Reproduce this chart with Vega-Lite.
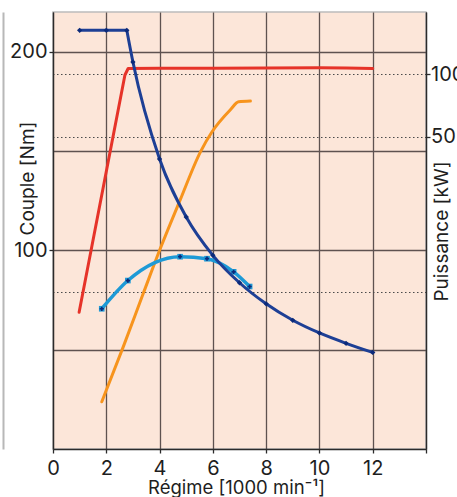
{
  "$schema": "https://vega.github.io/schema/vega-lite/v6.json",
  "width": 373,
  "height": 437,
  "autosize": {"type": "none"},
  "padding": {"left": 53, "top": 12, "right": 31, "bottom": 48},
  "background": "#ffffff",
  "config": {
    "font": "Inter",
    "view": {"fill": "#fce6d9", "stroke": "#bcbcbc", "strokeWidth": 1.5},
    "axis": {
      "domainColor": "#2b2b2b", "domainWidth": 1.3,
      "tickColor": "#2b2b2b", "tickSize": 4, "tickWidth": 1.3,
      "labelFont": "Inter", "labelFontSize": 20, "labelColor": "#1e1e1e",
      "titleFont": "Inter", "titleFontSize": 19, "titleFontWeight": "normal", "titleColor": "#1e1e1e",
      "labelOverlap": false
    }
  },
  "datasets": {
    "torque": [
      {"x": 1, "nm": 210.8}, {"x": 2, "nm": 210.8}, {"x": 2.77, "nm": 210.8},
      {"x": 3, "nm": 194.8}, {"x": 4, "nm": 146}, {"x": 5, "nm": 116.8},
      {"x": 6, "nm": 97.5}, {"x": 7, "nm": 83.7}, {"x": 8, "nm": 73.1},
      {"x": 9, "nm": 64.8}, {"x": 10, "nm": 58.4}, {"x": 11, "nm": 53.2},
      {"x": 12, "nm": 48.6}
    ],
    "s1": [
      {"x": 1.83, "nm": 70.6}, {"x": 2.81, "nm": 84.8}, {"x": 4.77, "nm": 96.8},
      {"x": 5.78, "nm": 95.8}, {"x": 6.78, "nm": 89.2}, {"x": 7.38, "nm": 81.8}
    ],
    "red": [
      {"x": 0.98, "kw": 7.18}, {"x": 2.7, "kw": 98.9}, {"x": 2.82, "kw": 106.3},
      {"x": 4, "kw": 106.5}, {"x": 6, "kw": 106.6}, {"x": 8, "kw": 106.9},
      {"x": 10, "kw": 107.2}, {"x": 11, "kw": 107}, {"x": 12, "kw": 106.3}
    ],
    "orange": [
      {"x": 1.83, "kw": 2.67}, {"x": 2.64, "kw": 4.91}, {"x": 3.39, "kw": 8.86},
      {"x": 4.02, "kw": 14.45}, {"x": 4.77, "kw": 24.8}, {"x": 5.53, "kw": 42.2},
      {"x": 5.97, "kw": 52.8}, {"x": 6.65, "kw": 67.2}, {"x": 6.97, "kw": 73.6},
      {"x": 7.41, "kw": 74.2}
    ]
  },
  "encoding": {
    "x": {
      "field": "x", "type": "quantitative",
      "scale": {"domain": [0, 14], "nice": false, "zero": false},
      "axis": {
        "values": [0, 2, 4, 6, 8, 10, 12, 14],
        "labelExpr": "datum.value == 14 ? '' : datum.label",
        "labelFlush": false,
        "grid": true, "gridColor": "#5e5250", "gridWidth": 1.3,
        "labelPadding": 5,
        "title": "Régime [1000 min⁻¹]",
        "titleFontSize": 18.5,
        "titleBaseline": "alphabetic", "titleY": 44, "titleX": 183
      }
    }
  },
  "layer": [
    {
      "data": {"name": "torque"},
      "mark": {"type": "point", "opacity": 0},
      "encoding": {
        "y": {
          "field": "nm", "type": "quantitative",
          "scale": {"domain": [0, 220], "nice": false, "zero": false},
          "axis": {
            "orient": "left", "offset": 50, "labels": false, "ticks": false, "grid": false,
            "title": null, "domainColor": "#b8b8b8", "domainWidth": 2
          }
        }
      }
    },
    {
      "encoding": {
        "y": {
          "field": "kw", "type": "quantitative",
          "scale": {"type": "log", "domain": [1.584, 198.5], "nice": false},
          "axis": {
            "orient": "right",
            "values": [9, 50, 100],
            "labelExpr": "datum.value == 9 ? '' : format(datum.value, 'd')",
            "tickOpacity": {"condition": {"test": "datum.value == 9", "value": 0}, "value": 1},
            "grid": true, "gridDash": [1.5, 2.5], "gridColor": "#4a4a4a", "gridWidth": 1,
            "labelPadding": 0.5,
            "title": "Puissance [kW]",
            "titleAngle": 270, "titleAlign": "center", "titleBaseline": "middle",
            "titleX": 15, "titleY": 219
          }
        }
      },
      "layer": [
        {"data": {"name": "red"}, "mark": {"type": "line", "color": "#e63329", "strokeWidth": 3, "strokeJoin": "round", "strokeCap": "round"}},
        {"data": {"name": "orange"}, "mark": {"type": "line", "color": "#f7941d", "strokeWidth": 3, "interpolate": "monotone", "strokeCap": "round"}}
      ]
    },
    {
      "encoding": {
        "y": {
          "field": "nm", "type": "quantitative",
          "scale": {"domain": [0, 220], "nice": false, "zero": false},
          "axis": {
            "orient": "left",
            "values": [50, 100, 150, 200],
            "labelExpr": "datum.value % 100 == 0 ? datum.label : ''",
            "tickOpacity": {"condition": {"test": "datum.value % 100 != 0", "value": 0}, "value": 1},
            "grid": true, "gridColor": "#5e5250", "gridWidth": 1.3,
            "labelPadding": 2,
            "title": "Couple [Nm]",
            "titleAngle": 270, "titleAlign": "center", "titleBaseline": "middle",
            "titleX": -26, "titleY": 166
          }
        }
      },
      "layer": [
        {"data": {"name": "s1"}, "mark": {"type": "line", "color": "#1e9ad6", "strokeWidth": 3.5, "interpolate": "monotone", "strokeCap": "round"}},
        {"data": {"name": "s1"}, "mark": {"type": "point", "shape": "square", "filled": true, "color": "#1e9ad6", "size": 32, "opacity": 1}},
        {"data": {"name": "s1"}, "mark": {"type": "point", "shape": "cross", "filled": true, "color": "#0b2a7a", "size": 18, "opacity": 1}},
        {"data": {"name": "torque"}, "transform": [{"filter": "datum.x <= 2.77"}], "mark": {"type": "line", "color": "#1d3f95", "strokeWidth": 3}},
        {"data": {"name": "torque"}, "transform": [{"filter": "datum.x >= 2.77"}], "mark": {"type": "line", "color": "#1d3f95", "strokeWidth": 3, "interpolate": "monotone"}},
        {"data": {"name": "torque"}, "mark": {"type": "point", "shape": "diamond", "filled": true, "color": "#0b2a7a", "size": 28, "opacity": 1}}
      ]
    }
  ],
  "resolve": {"scale": {"y": "independent"}}
}
